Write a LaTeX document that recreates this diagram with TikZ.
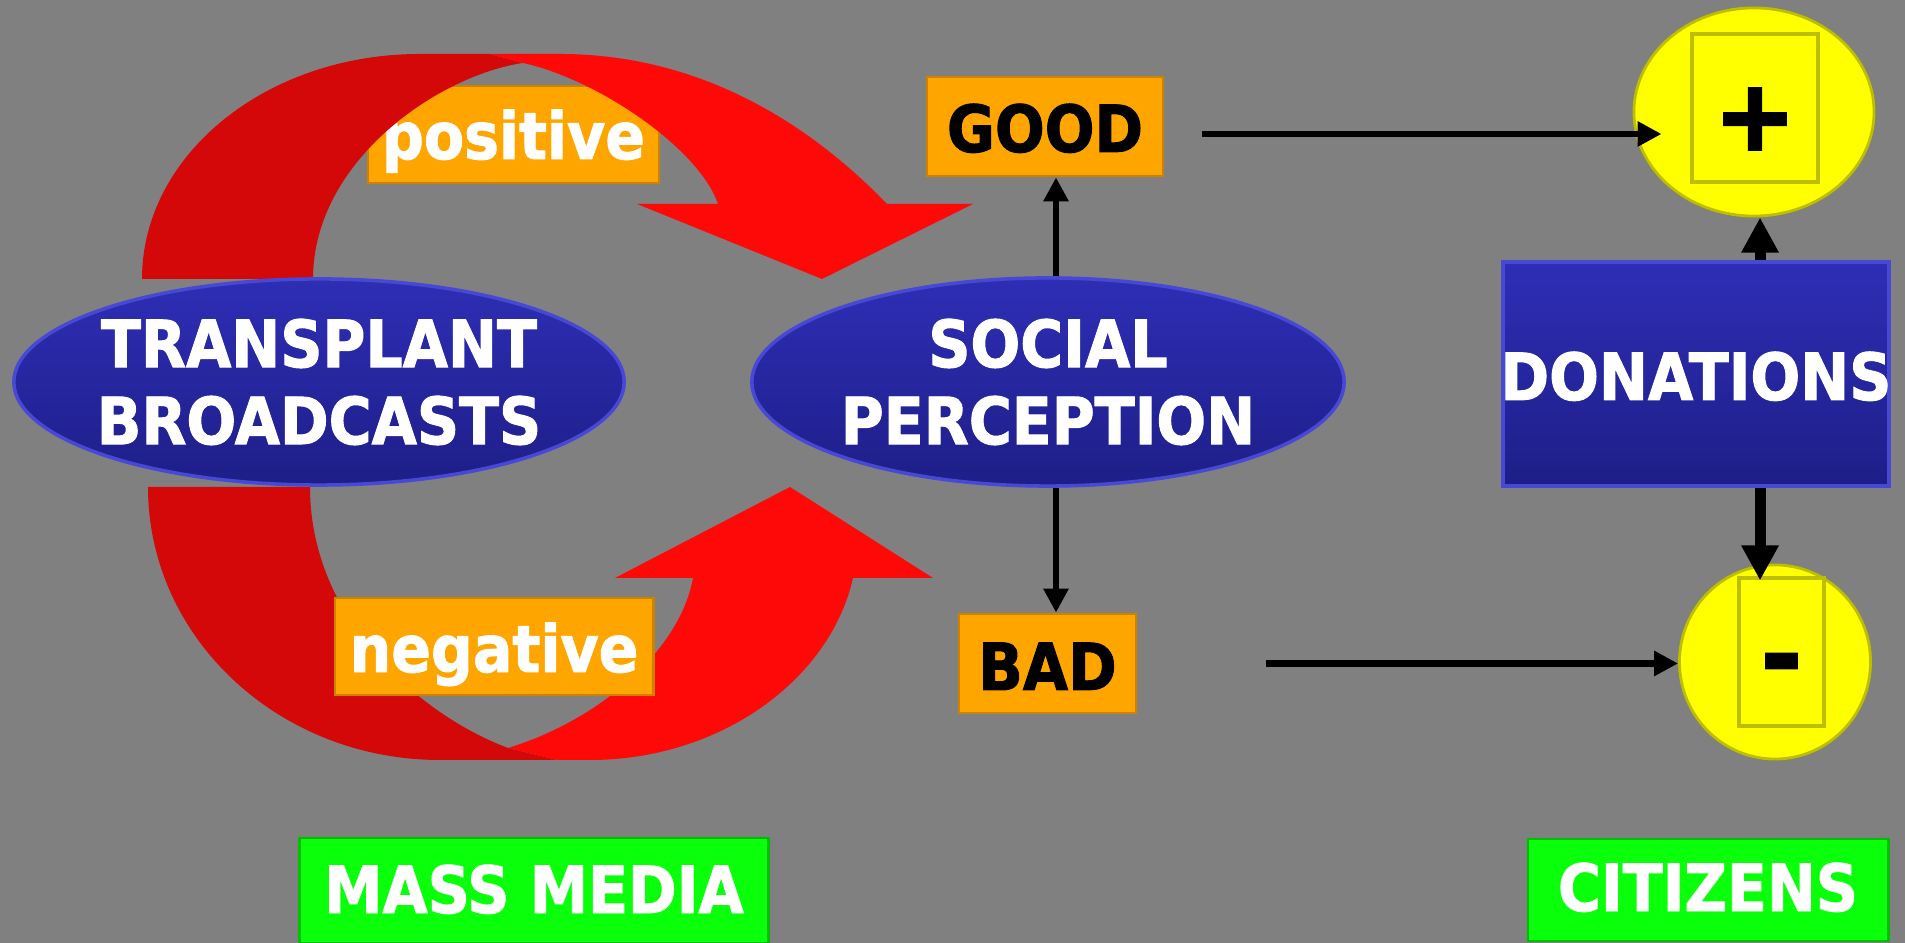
\documentclass[tikz,border=0pt]{standalone}
\usepackage{fontspec}
\setmainfont{DejaVu Sans}[FakeStretch=0.9, BoldFeatures={FakeBold=1.5}]
\newfontfamily\signos{DejaVu Sans}[BoldFeatures={FakeBold=3}]
\usetikzlibrary{shapes.geometric,arrows.meta}
\definecolor{fondo}{RGB}{128,128,128}
\definecolor{rojo}{RGB}{255,8,8}
\definecolor{rojooscuro}{RGB}{212,8,8}
\definecolor{azul}{RGB}{46,46,182}
\definecolor{azuloscuro}{RGB}{30,30,136}
\definecolor{azulborde}{RGB}{72,72,214}
\definecolor{naranja}{RGB}{255,165,0}
\definecolor{naranjaborde}{RGB}{205,130,0}
\definecolor{verde}{RGB}{10,255,10}
\definecolor{verdeborde}{RGB}{0,190,0}
\definecolor{amarillo}{RGB}{255,255,0}
\definecolor{amarilloborde}{RGB}{190,190,0}
\newcommand{\etiqueta}{\fontsize{18.5}{21.9}\selectfont\bfseries}
\newcommand{\signo}{\signos\fontsize{27.6}{30}\selectfont\bfseries}
\begin{document}
\begin{tikzpicture}[x=0.01cm,y=0.01cm,
    elipse/.style={ellipse, inner sep=0pt, draw=azulborde, line width=1pt, top color=azul, bottom color=azuloscuro, text=white, font=\etiqueta, align=center},
    caja/.style={rectangle, inner sep=0pt, draw=naranjaborde, line width=0.8pt, fill=naranja, font=\etiqueta},
    grupo/.style={rectangle, inner sep=0pt, draw=verdeborde, line width=0.8pt, fill=verde, text=white, font=\etiqueta},
    disco/.style={ellipse, inner sep=0pt, draw=amarilloborde, line width=0.8pt, fill=amarillo},
    cuadro/.style={rectangle, inner sep=0pt, draw=amarilloborde, line width=1pt, fill=amarillo, font=\signo},
    flecha/.style={line width=1.85pt, -{Triangle[length=6.8pt,width=6.8pt]}},
    flechagruesa/.style={line width=3.1pt, -{Triangle[length=10pt,width=10pt]}}]
    	%fondo
    	\useasboundingbox (0,0) rectangle (1905,943);
    	\fill[fondo] (0,0) rectangle (1905,943);
    	
    	\node[caja, text=white, minimum width=2.91cm, text height=0.73cm, text depth=0.24cm] at (513.5,808.5) (positive) {positive};
    	
    	%%%% FLECHAS ROJAS
    	%arriba
    	\fill[rojooscuro] (142,664) .. controls (142,788) and (266,889) .. (420,889) -- (490,889) -- (523,880) .. controls (440,868) and (313,783) .. (313,664) -- cycle;
    	\fill[rojo] (490,889) -- (560,889) .. controls (720,889) and (830,798) .. (887,739) -- (973,739) -- (822,664) -- (637,739) -- (718,739) .. controls (700,793) and (600,863) .. (523,880) -- cycle;
    	%abajo
    	\fill[rojooscuro] (148,456) .. controls (148,305) and (279,183) .. (440,183) -- (557,183) -- (508,195) .. controls (420,228) and (310,323) .. (310,456) -- cycle;
    	\fill[rojo] (557,183) -- (590,183) .. controls (720,183) and (830,263) .. (853,365) -- (933,365) -- (790,456) -- (615,365) -- (693,365) .. controls (680,293) and (600,223) .. (508,195) -- cycle;
    	
    	\node[caja, text=white, minimum width=3.18cm, text height=0.74cm, text depth=0.23cm] at (494,296.5) (negative) {negative};
    	
    	%elipses
    	\node[elipse, inner xsep=-0.07cm, minimum width=6.1cm, minimum height=2.06cm] at (319,561) (transplant) {TRANSPLANT\\BROADCASTS};
    	\node[elipse, minimum width=5.92cm, minimum height=2.08cm] at (1048,561) (social) {SOCIAL\\PERCEPTION};
    	
    	\node[caja, minimum width=2.36cm, text height=0.75cm, text depth=0.24cm] at (1045,816.5) (good) {GOOD};
    	\node[caja, minimum width=1.77cm, text height=0.76cm, text depth=0.23cm] at (1047.5,279.5) (bad) {BAD};
    	
    	%donaciones
    	\node[rectangle, inner sep=0pt, draw=azulborde, line width=1pt, top color=azul, bottom color=azuloscuro, text=white, font=\etiqueta, minimum width=3.86cm, text height=1.38cm, text depth=0.86cm] at (1696,569) (donations) {\makebox[3.8cm]{DONATIONS}};
    	\node[disco, minimum width=2.4cm, minimum height=2.08cm] at (1754,831) (plusdisc) {};
    	\node[cuadro, minimum width=1.26cm, text height=1.155cm, text depth=0.325cm] at (1755,835) (plusbox) {+};
    	\node[disco, minimum width=1.91cm, minimum height=1.94cm] at (1775,281) (minusdisc) {};
    	\node[cuadro, minimum width=0.85cm, text height=1.11cm, text depth=0.37cm] at (1781.5,291) (minusbox) {-};
    	
    	%grupos
    	\node[grupo, minimum width=4.68cm, text height=0.75cm, text depth=0.30cm] at (534,52.5) (media) {MASS MEDIA};
    	\node[grupo, minimum width=3.60cm, text height=0.72cm, text depth=0.30cm] at (1708,53) (citizens) {CITIZENS};
    	
    	%%%% FLECHAS
    	\draw[flecha] ([xshift=0.08cm]social.north) -- ([xshift=0.08cm]social.north |- good.south);
    	\draw[flecha] ([xshift=0.08cm]social.south) -- ([xshift=0.08cm]social.south |- bad.north);
    	\draw[flecha, shorten <=0.37cm, shorten >=-0.29cm] ([yshift=-0.075cm]good.east) -- ([yshift=-0.075cm]good.east -| plusdisc.west);
    	\draw[flecha, shorten <=1.28cm] (bad.east) -- (bad.east -| minusdisc.west);
    	\draw[flechagruesa] ([xshift=0.64cm]donations.north) -- ([xshift=0.64cm]donations.north |- plusdisc.south);
    	\draw[flechagruesa, shorten >=-0.17cm] ([xshift=0.64cm]donations.south) -- ([xshift=0.64cm]donations.south |- minusdisc.north);
\end{tikzpicture}
\end{document}
